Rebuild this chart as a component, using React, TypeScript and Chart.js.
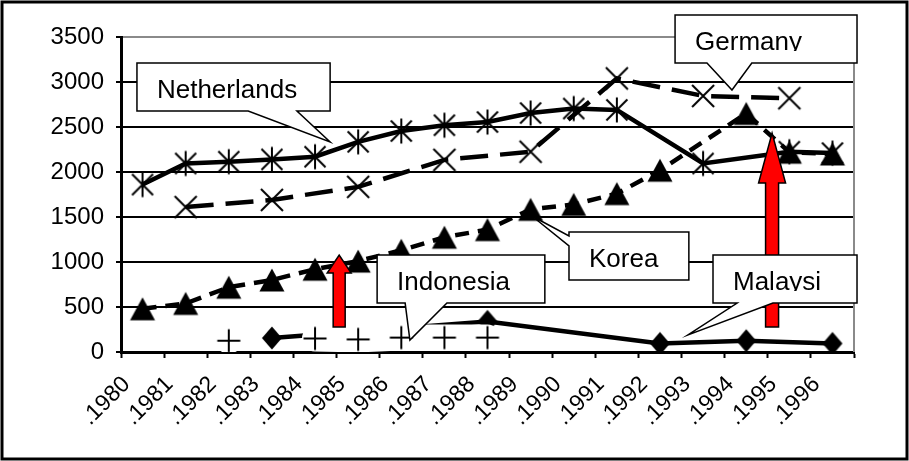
import React, { useEffect, useRef } from "react";
import { Chart, registerables } from "chart.js";

Chart.register(...registerables);

// ---------- data ----------
const X_LABELS = [
  ".1980", ".1981", ".1982", ".1983", ".1984", ".1985", ".1986", ".1987", ".1988",
  ".1989", ".1990", ".1991", ".1992", ".1993", ".1994", ".1995", ".1996",
];
const NETHERLANDS = [1860, 2095, 2115, 2140, 2170, 2335, 2455, 2520, 2555, 2655, 2705, 2690, null, 2095, null, 2225, 2210];
const GERMANY = [null, 1610, null, 1690, null, 1835, null, 2135, null, 2225, null, 3040, null, 2845, null, 2820, null];
const KOREA = [480, 540, 720, 800, 920, 1010, 1130, 1275, 1360, 1585, 1640, 1760, 2020, null, 2650, 2220, 2200];
const INDONESIA = [null, null, 125, null, 150, 140, 160, 160, 160, null, null, null, null, null, null, null, null];
const MALAYSIA = [null, null, null, 155, null, null, null, null, 340, null, null, null, 95, null, 125, null, 95];
const Y_MIN = 0;
const Y_MAX = 3500;
const Y_STEP = 500;

// annotations, in data units (category index, value)
const CALLOUTS = [
  { text: "Netherlands", x: [-0.13, 4.35], y: [2678, 3211], side: "bottom", base: [2.45, 3.58], tip: [4.35, 2333], clipInset: 30 },
  { text: "Germany", x: [12.35, 16.57], y: [3211, 3744], side: "bottom", base: [13.09, 14.13], tip: [13.67, 2911], clipInset: 30 },
  { text: "Korea", x: [9.89, 12.67], y: [800, 1333], side: "left", base: [1178, 1289], tip: [9.03, 1511], clipInset: 30 },
  { text: "Indonesia", x: [5.44, 9.33], y: [544, 1078], side: "bottom", base: [6.09, 7.06], tip: [6.2, 133], clipInset: 30 },
  { text: "Malaysia", x: [13.23, 16.57], y: [544, 1078], side: "bottom", base: [13.79, 14.62], tip: [12.65, 189], clipInset: 35 },
];
const ARROWS = [
  { x: 4.56, bottom: 278, headBase: 878, tip: 1078, shaft: 6, head: 12 },
  { x: 14.6, bottom: 278, headBase: 1878, tip: 2433, shaft: 6.5, head: 13.5 },
];

const FONT = "'Liberation Sans', Arial, Helvetica, sans-serif";

function makeMarker(kind: string): HTMLCanvasElement {
  const s = 28;
  const c = document.createElement("canvas");
  c.width = s;
  c.height = s;
  const g = c.getContext("2d") as CanvasRenderingContext2D;
  const m = s / 2;
  g.strokeStyle = "#000";
  g.fillStyle = "#000";
  g.lineWidth = 2;
  g.lineCap = "butt";
  g.beginPath();
  if (kind === "star") {
    g.moveTo(m - 10.5, m - 10.5); g.lineTo(m + 10.5, m + 10.5);
    g.moveTo(m + 10.5, m - 10.5); g.lineTo(m - 10.5, m + 10.5);
    g.moveTo(m, m - 12.5); g.lineTo(m, m + 12.5);
    g.stroke();
  } else if (kind === "x") {
    g.moveTo(m - 11, m - 11); g.lineTo(m + 11, m + 11);
    g.moveTo(m + 11, m - 11); g.lineTo(m - 11, m + 11);
    g.stroke();
  } else if (kind === "tri") {
    g.moveTo(m, m - 11.5); g.lineTo(m + 12.5, m + 11.5); g.lineTo(m - 12.5, m + 11.5);
    g.closePath(); g.fill();
  } else if (kind === "diamond") {
    g.moveTo(m, m - 11.5); g.lineTo(m + 10, m); g.lineTo(m, m + 11.5); g.lineTo(m - 10, m);
    g.closePath(); g.fill();
  } else if (kind === "plus") {
    g.moveTo(m - 11.5, m); g.lineTo(m + 11.5, m);
    g.moveTo(m, m - 11.5); g.lineTo(m, m + 11.5);
    g.stroke();
  }
  return c;
}

const overlayPlugin = {
  id: "overlay",
  beforeDatasetsDraw(chart: any) {
    const { ctx, chartArea } = chart;
    ctx.save();
    ctx.strokeStyle = "#8a8a8a";
    ctx.lineWidth = 2;
    ctx.beginPath();
    ctx.moveTo(chartArea.right, chartArea.top);
    ctx.lineTo(chartArea.right, chartArea.bottom);
    ctx.stroke();
    ctx.restore();
  },
  afterDatasetsDraw(chart: any) {
    const { ctx } = chart;
    const xs = chart.scales.x;
    const ys = chart.scales.y;
    ctx.save();
    // red arrows
    for (const a of ARROWS) {
      const cx = xs.getPixelForValue(a.x);
      const tip = ys.getPixelForValue(a.tip);
      const hb = ys.getPixelForValue(a.headBase);
      const bot = ys.getPixelForValue(a.bottom);
      ctx.beginPath();
      ctx.moveTo(cx - a.shaft, bot);
      ctx.lineTo(cx - a.shaft, hb);
      ctx.lineTo(cx - a.head, hb);
      ctx.lineTo(cx, tip);
      ctx.lineTo(cx + a.head, hb);
      ctx.lineTo(cx + a.shaft, hb);
      ctx.lineTo(cx + a.shaft, bot);
      ctx.closePath();
      ctx.fillStyle = "#ff0000";
      ctx.fill();
      ctx.strokeStyle = "#000";
      ctx.lineWidth = 1.5;
      ctx.lineJoin = "miter";
      ctx.stroke();
    }
    // callouts
    for (const c of CALLOUTS) {
      const L = xs.getPixelForValue(c.x[0]);
      const R = xs.getPixelForValue(c.x[1]);
      const T = ys.getPixelForValue(c.y[1]);
      const B = ys.getPixelForValue(c.y[0]);
      const tx = xs.getPixelForValue(c.tip[0]);
      const ty = ys.getPixelForValue(c.tip[1]);
      ctx.beginPath();
      if (c.side === "bottom") {
        const b0 = xs.getPixelForValue(c.base[0]);
        const b1 = xs.getPixelForValue(c.base[1]);
        ctx.moveTo(L, T);
        ctx.lineTo(R, T);
        ctx.lineTo(R, B);
        ctx.lineTo(b1, B);
        ctx.lineTo(tx, ty);
        ctx.lineTo(b0, B);
        ctx.lineTo(L, B);
        ctx.closePath();
      } else {
        const bLow = ys.getPixelForValue(c.base[0]);
        const bHigh = ys.getPixelForValue(c.base[1]);
        ctx.moveTo(L, T);
        ctx.lineTo(R, T);
        ctx.lineTo(R, B);
        ctx.lineTo(L, B);
        ctx.lineTo(L, bLow);
        ctx.lineTo(tx, ty);
        ctx.lineTo(L, bHigh);
        ctx.closePath();
      }
      ctx.fillStyle = "#fff";
      ctx.fill();
      ctx.strokeStyle = "#000";
      ctx.lineWidth = 1.5;
      ctx.stroke();
      ctx.save();
      ctx.beginPath();
      ctx.rect(L, T, R - L - c.clipInset, 36);
      ctx.clip();
      ctx.fillStyle = "#000";
      ctx.font = `26px ${FONT}`;
      ctx.textAlign = "left";
      ctx.textBaseline = "alphabetic";
      ctx.fillText(c.text, L + 20, T + 35);
      ctx.restore();
    }
    ctx.restore();
  },
  afterDraw(chart: any) {
    const { ctx } = chart;
    ctx.save();
    ctx.strokeStyle = "#000";
    ctx.lineWidth = 3;
    ctx.strokeRect(2, 2, 905, 457);
    ctx.restore();
  },
};

export default function App() {
  const ref = useRef<HTMLCanvasElement | null>(null);

  useEffect(() => {
    if (!ref.current) return;
    const star = makeMarker("star");
    const xMark = makeMarker("x");
    const tri = makeMarker("tri");
    const diamond = makeMarker("diamond");
    const plus = makeMarker("plus");

    const chart = new Chart(ref.current, {
      type: "line",
      data: {
        labels: X_LABELS,
        datasets: [
          {
            label: "Indonesia",
            data: INDONESIA,
            borderColor: "#ffffff",
            borderWidth: 26,
            borderCapStyle: "round",
            pointStyle: plus,
            pointRadius: 11,
            spanGaps: false,
          },
          {
            label: "Malaysia",
            data: MALAYSIA,
            borderColor: "#000",
            borderWidth: 4.5,
            pointStyle: diamond,
            pointRadius: 11,
            spanGaps: true,
          },
          {
            label: "Korea",
            data: KOREA,
            borderColor: "#000",
            borderWidth: 4.5,
            borderDash: [14, 9],
            pointStyle: tri,
            pointRadius: 12,
            spanGaps: true,
          },
          {
            label: "Netherlands",
            data: NETHERLANDS,
            borderColor: "#000",
            borderWidth: 4.5,
            pointStyle: star,
            pointRadius: 12,
            spanGaps: true,
          },
          {
            label: "Germany",
            data: GERMANY,
            borderColor: "#000",
            borderWidth: 4.5,
            borderDash: [28, 12],
            pointStyle: xMark,
            pointRadius: 11,
            spanGaps: true,
          },
        ],
      } as any,
      options: {
        animation: false,
        responsive: false,
        maintainAspectRatio: false,
        devicePixelRatio: 1,
        layout: { padding: { top: 37, right: 55, left: 0, bottom: 0 } },
        plugins: {
          legend: { display: false },
          tooltip: { enabled: false },
          title: { display: false },
        },
        elements: { line: { tension: 0 } },
        scales: {
          x: {
            type: "category",
            offset: true,
            grid: {
              offset: true,
              drawOnChartArea: false,
              drawTicks: true,
              tickLength: 6,
              tickWidth: 2,
              tickColor: "#000",
              color: "#000",
            },
            border: { display: true, color: "#000", width: 3 },
            ticks: {
              autoSkip: false,
              minRotation: 45,
              maxRotation: 45,
              padding: 13,
              labelOffset: -16,
              color: "#000",
              font: { family: FONT, size: 23 },
            },
            afterFit: (s: any) => {
              s.height = 109;
            },
          },
          y: {
            min: Y_MIN,
            max: Y_MAX,
            grid: {
              color: (c: any) => (c.tick && c.tick.value === Y_MAX ? "#8a8a8a" : "#000"),
              lineWidth: 2,
              drawTicks: true,
              tickLength: 5,
              tickColor: "#000",
              tickWidth: 2,
            },
            border: { display: true, color: "#000", width: 3 },
            ticks: {
              stepSize: Y_STEP,
              padding: 12,
              color: "#000",
              font: { family: FONT, size: 24 },
              callback: (v: any) => String(v),
            },
            afterFit: (s: any) => {
              s.width = 121;
            },
          },
        },
      } as any,
      plugins: [overlayPlugin],
    });
    return () => chart.destroy();
  }, []);

  return (
    <div style={{ position: "absolute", left: 0, top: 0, width: 909, height: 461, background: "#fff" }}>
      <canvas ref={ref} width={909} height={461} style={{ display: "block" }} />
    </div>
  );
}
